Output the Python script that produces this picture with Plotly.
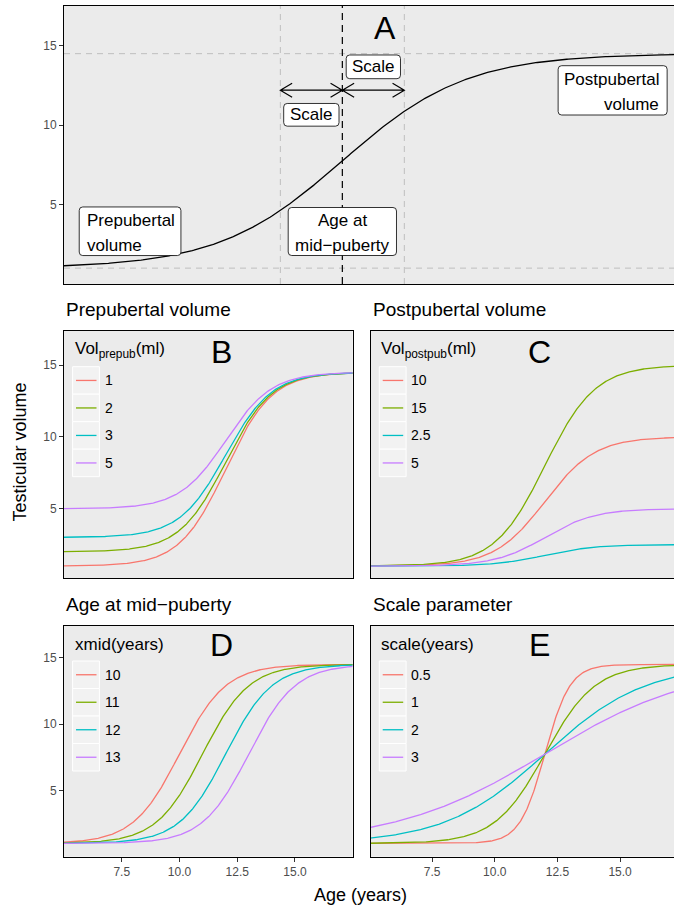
import numpy as np
import plotly.graph_objects as go

W, H = 674, 909

# ---------------- data (logistic growth parameters) ----------------
age_start, age_end = 5.0, 17.5          # years shown in panels B-E
age_start_a, age_end_a = 7.5, 17.5      # years shown in panel A
default_prepub = 1.0                    # ml
default_postpub = 14.5                  # ml
default_xmid = 12.0                     # years
default_scale = 1.0                     # years

prepub_values = [1, 2, 3, 5]
prepub_labels = ["1", "2", "3", "5"]
postpub_values = [10, 15, 2.5, 5]
postpub_labels = ["10", "15", "2.5", "5"]
xmid_values = [10, 11, 12, 13]
xmid_labels = ["10", "11", "12", "13"]
scale_values = [0.5, 1, 2, 3]
scale_labels = ["0.5", "1", "2", "3"]

x_tick_vals = [7.5, 10.0, 12.5, 15.0]
x_tick_text = ["7.5", "10.0", "12.5", "15.0"]
y_tick_vals = [5, 10, 15]
y_tick_text = ["5", "10", "15"]

series_colors = ["#F8766D", "#7CAE00", "#00BFC4", "#C77CFF"]


def logistic(age, prepub, postpub, xmid, scale):
    return prepub + (postpub - prepub) / (1.0 + np.exp(-(age - xmid) / scale))


FONT = "Liberation Sans, Arial, sans-serif"
PANEL_BG = "#EBEBEB"

# panel pixel boxes (left, top, right, bottom) and axis ranges
panels = {
    "A": dict(ax="", box=(64, 6, 674, 284), xr=[7.51, 17.35], yr=[0.0, 17.5],
              xt=False, yt=True, right_cut=True),
    "B": dict(ax="2", box=(64, 330.7, 352.7, 578.3), xr=[5.0, 17.5], yr=[0.15, 17.4],
              xt=False, yt=True, right_cut=False),
    "C": dict(ax="3", box=(370.7, 330.7, 674, 578.3), xr=[5.05, 17.15], yr=[0.15, 17.4],
              xt=False, yt=False, right_cut=True),
    "D": dict(ax="4", box=(64, 626, 352.7, 856.7), xr=[5.0, 17.5], yr=[0.0, 17.4],
              xt=True, yt=True, right_cut=False),
    "E": dict(ax="5", box=(370.7, 626, 674, 856.7), xr=[5.05, 17.15], yr=[0.0, 17.4],
              xt=True, yt=False, right_cut=True),
}

fig = go.Figure()
layout = dict(
    width=W, height=H, margin=dict(l=0, r=0, t=0, b=0),
    paper_bgcolor="white", plot_bgcolor=PANEL_BG, showlegend=False,
    font=dict(family=FONT, color="black"),
)
shapes, annotations = [], []

for key, p in panels.items():
    l, t, r, b = p["box"]
    ax = p["ax"]
    layout["xaxis" + ax] = dict(
        domain=[l / W, min(r / W, 1.0)], range=p["xr"], anchor="y" + ax,
        showgrid=False, zeroline=False, showline=True, linecolor="black", linewidth=1,
        mirror=True, ticks="outside" if p["xt"] else "", ticklen=4, tickcolor="#333333",
        tickvals=x_tick_vals, ticktext=x_tick_text, showticklabels=p["xt"],
        tickfont=dict(family=FONT, size=12, color="#4D4D4D"), fixedrange=True,
    )
    layout["yaxis" + ax] = dict(
        domain=[1 - b / H, 1 - t / H], range=p["yr"], anchor="x" + ax,
        showgrid=False, zeroline=False, showline=True, linecolor="black", linewidth=1,
        mirror=not p["right_cut"], ticks="outside" if p["yt"] else "", ticklen=4,
        tickcolor="#333333", tickvals=y_tick_vals, ticktext=y_tick_text,
        showticklabels=p["yt"], tickfont=dict(family=FONT, size=12, color="#4D4D4D"),
        fixedrange=True,
    )

ages = np.linspace(age_start, age_end, 400)
ages_a = np.linspace(age_start_a, age_end_a, 400)

# ---------------- Panel A ----------------
fig.add_trace(go.Scatter(
    x=ages_a, y=logistic(ages_a, default_prepub, default_postpub, default_xmid, default_scale),
    mode="lines", line=dict(color="black", width=1.3), xaxis="x", yaxis="y", hoverinfo="skip"))

for yv in [default_prepub, default_postpub]:
    shapes.append(dict(type="line", xref="x domain", yref="y", x0=0, x1=1, y0=yv, y1=yv,
                       line=dict(color="#BEBEBE", width=1, dash="6px,5px"), layer="below"))
for xv in [default_xmid - default_scale, default_xmid + default_scale]:
    shapes.append(dict(type="line", xref="x", yref="y domain", x0=xv, x1=xv, y0=0, y1=1,
                       line=dict(color="#BEBEBE", width=1, dash="6px,5px"), layer="below"))
shapes.append(dict(type="line", xref="x", yref="y domain", x0=default_xmid, x1=default_xmid,
                   y0=0, y1=1, line=dict(color="black", width=1.2, dash="7px,5px"), layer="below"))

# double-headed arrows showing the scale on both sides of xmid
arrow_y = 12.2
head_dx, head_dy = 0.19, 0.44
for a0, a1 in [(default_xmid - default_scale, default_xmid), (default_xmid, default_xmid + default_scale)]:
    path = (f"M {a0},{arrow_y} L {a1},{arrow_y} "
            f"M {a0 + head_dx},{arrow_y + head_dy} L {a0},{arrow_y} L {a0 + head_dx},{arrow_y - head_dy} "
            f"M {a1 - head_dx},{arrow_y + head_dy} L {a1},{arrow_y} L {a1 - head_dx},{arrow_y - head_dy}")
    shapes.append(dict(type="path", xref="x", yref="y", path=path,
                       line=dict(color="black", width=1.2)))


def rounded_rect(w, h, r=3.5):
    x0, x1, y0, y1 = -w / 2, w / 2, -h / 2, h / 2
    return (f"M {x0 + r},{y0} L {x1 - r},{y0} Q {x1},{y0} {x1},{y0 + r} "
            f"L {x1},{y1 - r} Q {x1},{y1} {x1 - r},{y1} L {x0 + r},{y1} "
            f"Q {x0},{y1} {x0},{y1 - r} L {x0},{y0 + r} Q {x0},{y0} {x0 + r},{y0} Z")


# labels of panel A: (center x, center y, box w px, box h px, align, lines)
a_labels = [
    (8.576, 3.32, 101.7, 48.6, "left", ["Prepubertal", "volume"]),
    (default_xmid, 3.305, 108.3, 48.0, "center", ["Age at", "mid\u2212puberty"]),
    (16.36, 12.19, 109.0, 49.3, "right", ["Postpubertal", "volume"]),
    (default_xmid - default_scale / 2, 10.65, 55.3, 22.7, "center", ["Scale"]),
    (default_xmid + default_scale / 2, 13.67, 54.3, 23.7, "center", ["Scale"]),
]
line_gap = 25.0
pad = 6.0
for cx, cy, bw, bh, align, lines in a_labels:
    shapes.append(dict(type="path", xref="x", yref="y", xsizemode="pixel", ysizemode="pixel",
                       xanchor=cx, yanchor=cy, path=rounded_rect(bw, bh),
                       fillcolor="white", line=dict(color="black", width=0.8)))
    n = len(lines)
    for i, txt in enumerate(lines):
        ysh = ((n - 1) / 2 - i) * line_gap - (2 if n > 1 else 0)
        if align == "left":
            xa, xsh = "left", -bw / 2 + pad
        elif align == "right":
            xa, xsh = "right", bw / 2 - pad
        else:
            xa, xsh = "center", 0
        annotations.append(dict(xref="x", yref="y", x=cx, y=cy, xshift=xsh, yshift=ysh,
                                xanchor=xa, yanchor="middle", text=txt, showarrow=False,
                                font=dict(family=FONT, size=17, color="black")))

annotations.append(dict(xref="x", yref="y", x=12.69, y=16.1, text="A", showarrow=False,
                        xanchor="center", yanchor="middle",
                        font=dict(family=FONT, size=32, color="black")))

# ---------------- Panels B-E ----------------
panel_series = {
    "B": [(v, default_postpub, default_xmid, default_scale) for v in prepub_values],
    "C": [(default_prepub, v, default_xmid, default_scale) for v in postpub_values],
    "D": [(default_prepub, default_postpub, v, default_scale) for v in xmid_values],
    "E": [(default_prepub, default_postpub, default_xmid, v) for v in scale_values],
}
panel_titles = {"B": "Prepubertal volume", "C": "Postpubertal volume",
                "D": "Age at mid\u2212puberty", "E": "Scale parameter"}
legend_titles = {"B": "Vol<sub>prepub</sub>(ml)", "C": "Vol<sub>postpub</sub>(ml)",
                 "D": "xmid(years)", "E": "scale(years)"}
legend_labels = {"B": prepub_labels, "C": postpub_labels, "D": xmid_labels, "E": scale_labels}

for key, params in panel_series.items():
    p = panels[key]
    ax = p["ax"]
    for (pre, post, xm, sc), col in zip(params, series_colors):
        fig.add_trace(go.Scatter(x=ages, y=logistic(ages, pre, post, xm, sc), mode="lines",
                                 line=dict(color=col, width=1.3), xaxis="x" + ax,
                                 yaxis="y" + ax, hoverinfo="skip"))

    l, t, r, b = p["box"]
    # subplot title
    annotations.append(dict(xref="paper", yref="paper", x=l / W, y=1 - (t - 21.7) / H,
                            xanchor="left", yanchor="middle", text=panel_titles[key],
                            showarrow=False, font=dict(family=FONT, size=19, color="black")))
    # panel letter
    annotations.append(dict(xref="x" + ax, yref="y" + ax, x=11.8, y=15.95, text=key,
                            showarrow=False, xanchor="center", yanchor="middle",
                            font=dict(family=FONT, size=32, color="black")))
    # inside legend
    title_dy, keys_top = (19.3, 36.0) if key in ("B", "C") else (18.3, 35.0)
    key_h = 27.5
    annotations.append(dict(xref="paper", yref="paper", x=(l + 8.6) / W, y=1 - (t + title_dy) / H,
                            xanchor="left", yanchor="middle", text=legend_titles[key],
                            showarrow=False, font=dict(family=FONT, size=17, color="black")))
    for i, (lab, col) in enumerate(zip(legend_labels[key], series_colors)):
        top = t + keys_top + i * key_h
        shapes.append(dict(type="rect", xref="paper", yref="paper",
                           x0=(l + 8.6) / W, x1=(l + 35.4) / W,
                           y0=1 - (top + key_h) / H, y1=1 - top / H,
                           fillcolor="#F2F2F2", line=dict(color="white", width=1)))
        shapes.append(dict(type="line", xref="paper", yref="paper",
                           x0=(l + 12) / W, x1=(l + 32.5) / W,
                           y0=1 - (top + key_h / 2) / H, y1=1 - (top + key_h / 2) / H,
                           line=dict(color=col, width=1.3)))
        annotations.append(dict(xref="paper", yref="paper", x=(l + 38.7) / W,
                                y=1 - (top + key_h / 2) / H, xanchor="left", yanchor="middle",
                                text=lab, showarrow=False,
                                font=dict(family=FONT, size=14, color="black")))

# shared axis titles
annotations.append(dict(xref="paper", yref="paper", x=19 / W, y=1 - 452.5 / H,
                        xanchor="center", yanchor="middle", textangle=-90,
                        text="Testicular volume", showarrow=False,
                        font=dict(family=FONT, size=18, color="black")))
annotations.append(dict(xref="paper", yref="paper", x=360.5 / W, y=1 - 895 / H,
                        xanchor="center", yanchor="middle", text="Age (years)",
                        showarrow=False, font=dict(family=FONT, size=18, color="black")))

layout["shapes"] = shapes
layout["annotations"] = annotations
fig.update_layout(**layout)
fig.write_html(
    "out.html",
    config={"displayModeBar": False},
    post_script="document.body.style.margin='0';document.body.style.padding='0';"
                "document.body.style.overflow='hidden';",
)
